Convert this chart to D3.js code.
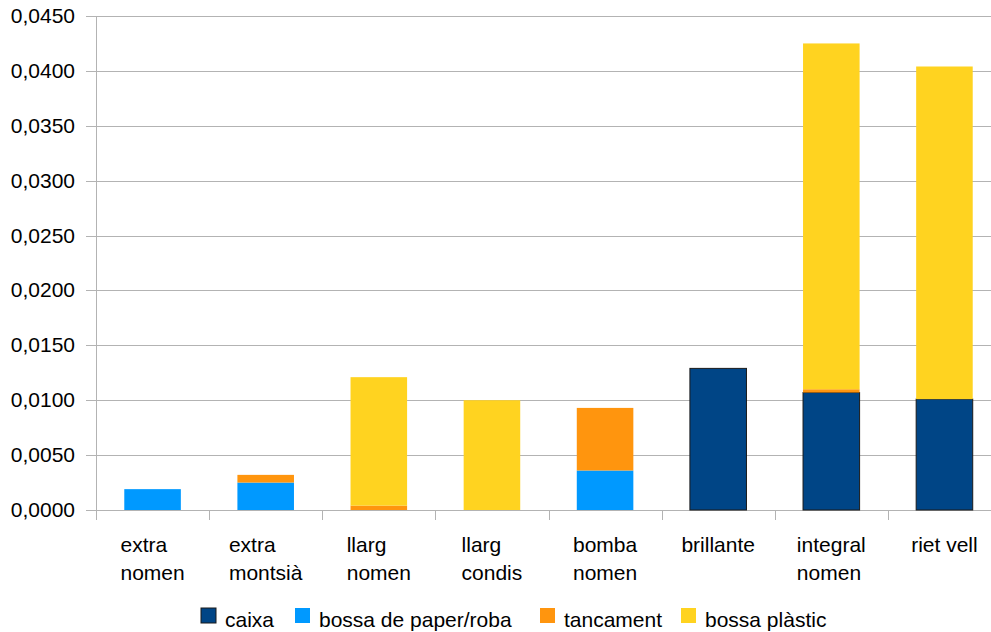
<!DOCTYPE html>
<html>
<head>
<meta charset="utf-8">
<script src="https://d3js.org/d3.v7.min.js"></script>
<style>
  body { margin: 0; background: #fff; }
  text { font-family: "Liberation Sans", Arial, sans-serif; fill: #000; }
</style>
</head>
<body>
<div id="chart"></div>
<script>
var svgWidth = 991;
var svgHeight = 632;

// categories (each label split in lines)
var categories = ["extra nomen", "extra montsià", "llarg nomen", "llarg condis", "bomba nomen", "brillante", "integral nomen", "riet vell"];
var catLines = [["extra", "nomen"], ["extra", "montsià"], ["llarg", "nomen"], ["llarg", "condis"], ["bomba", "nomen"], ["brillante"], ["integral", "nomen"], ["riet vell"]];

var seriesNames = ["caixa", "bossa de paper/roba", "tancament", "bossa plàstic"];
var seriesColors = ["#004586", "#0099ff", "#ff950e", "#ffd320"];

// values
var caixa = [0, 0, 0, 0, 0, 0.0129, 0.0107, 0.0101];
var bossaPaper = [0.0019, 0.0025, 0, 0, 0.0036, 0, 0, 0];
var tancament = [0, 0.0007, 0.0004, 0, 0.0057, 0, 0.0003, 0];
var bossaPlastic = [0, 0, 0.0117, 0.0100, 0, 0, 0.0315, 0.0303];

var yTicks = [0, 0.005, 0.01, 0.015, 0.02, 0.025, 0.03, 0.035, 0.04, 0.045];

var rows = categories.map(function(c, i) {
  return { cat: c, "caixa": caixa[i], "bossa de paper/roba": bossaPaper[i], "tancament": tancament[i], "bossa plàstic": bossaPlastic[i] };
});

var svg = d3.select("#chart").append("svg")
  .attr("width", svgWidth)
  .attr("height", svgHeight);

var x = d3.scaleBand().domain(categories).range([96, 1001]).padding(0);
var y = d3.scaleLinear().domain([0, 0.045]).range([510, 16]);

var fmt = function(v) { return d3.format(".4f")(v).replace(".", ","); };

// grid lines
svg.append("g").selectAll("line")
  .data(yTicks)
  .enter().append("line")
  .attr("x1", 86).attr("x2", 1001)
  .attr("y1", function(d) { return Math.round(y(d)) + 0.5; })
  .attr("y2", function(d) { return Math.round(y(d)) + 0.5; })
  .attr("stroke", "#b3b3b3").attr("stroke-width", 1);

// y axis line
svg.append("line")
  .attr("x1", 96.5).attr("x2", 96.5)
  .attr("y1", y(0.045)).attr("y2", 520)
  .attr("stroke", "#b3b3b3");

// category separators below axis
svg.append("g").selectAll("line")
  .data(categories.slice(1))
  .enter().append("line")
  .attr("x1", function(d) { return Math.round(x(d)) + 0.5; })
  .attr("x2", function(d) { return Math.round(x(d)) + 0.5; })
  .attr("y1", 510).attr("y2", 520)
  .attr("stroke", "#b3b3b3");

// y tick labels
svg.append("g").selectAll("text")
  .data(yTicks)
  .enter().append("text")
  .attr("x", 75)
  .attr("y", function(d) { return y(d) + 7; })
  .attr("text-anchor", "end")
  .attr("font-size", "21px")
  .text(fmt);

// stacked bars
var stack = d3.stack().keys(seriesNames);
var stacked = stack(rows);
var barW = x.bandwidth() * 0.5;

stacked.forEach(function(layer, si) {
  svg.append("g").selectAll("rect")
    .data(layer.filter(function(d) { return d[1] - d[0] > 0; }))
    .enter().append("rect")
    .attr("x", function(d) { return x(d.data.cat) + x.bandwidth() / 2 - barW / 2; })
    .attr("width", barW)
    .attr("y", function(d) { return y(d[1]); })
    .attr("height", function(d) { return y(d[0]) - y(d[1]); })
    .attr("fill", seriesColors[si])
    .attr("stroke", si === 0 ? "#1a1a1a" : "none")
    .attr("stroke-width", 1);
});

// category labels: lines left aligned, block centred in band
var catG = svg.append("g");
categories.forEach(function(c, i) {
  var t = catG.append("text")
    .attr("font-size", "21px");
  var spans = catLines[i].map(function(line, j) {
    return t.append("tspan")
      .attr("y", 552 + j * 27.5)
      .text(line);
  });
  var maxW = d3.max(spans, function(s) { return s.node().getComputedTextLength(); });
  var left = x(c) + x.bandwidth() / 2 - maxW / 2;
  spans.forEach(function(s) { s.attr("x", left); });
});

// legend
var legendX = [201, 295, 540, 681];
var legend = svg.append("g");
seriesNames.forEach(function(name, i) {
  legend.append("rect")
    .attr("x", legendX[i]).attr("y", 608)
    .attr("width", 15).attr("height", 15)
    .attr("fill", seriesColors[i])
    .attr("stroke", i === 0 ? "#1a1a1a" : "none");
  legend.append("text")
    .attr("x", legendX[i] + 24)
    .attr("y", 627)
    .attr("font-size", "21px")
    .text(name);
});
</script>
</body>
</html>
